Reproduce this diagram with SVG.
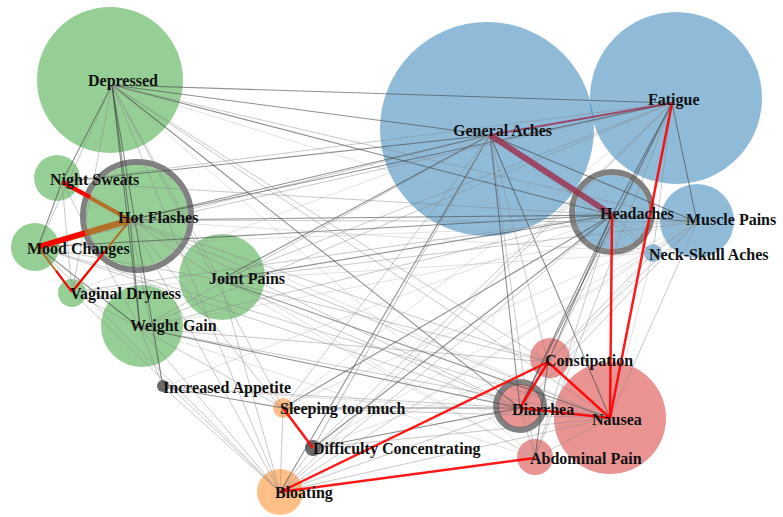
<svg xmlns="http://www.w3.org/2000/svg" width="783" height="517" viewBox="0 0 783 517">
<style>
.g{fill:#2ca02c;fill-opacity:0.5}
.b{fill:#1f77b4;fill-opacity:0.5}
.r{fill:#d62728;fill-opacity:0.5}
.o{fill:#ff7f0e;fill-opacity:0.5}
.k{fill:#666}
.ring{fill:none;stroke:#555;stroke-opacity:0.75;stroke-width:6}
.e1{stroke:#444;stroke-opacity:0.6;stroke-width:1.1}
.e2{stroke:#888;stroke-opacity:0.45;stroke-width:1}
.e3{stroke:#aaa;stroke-opacity:0.35;stroke-width:1}
.hr{stroke:#f00;stroke-width:2.5;stroke-opacity:0.9}
.hb{stroke:#b5651d;stroke-opacity:0.9}
.hm{stroke:#9b2d4a;stroke-opacity:0.8}
text{font-family:"Liberation Serif","Times New Roman",serif;font-weight:bold;font-size:16px;fill:#111}
</style>
<rect width="783" height="517" fill="#fff"/>
<g id="nodes-circles">
<g id="depressed"><circle class="g" cx="110" cy="80" r="73"/></g>
<g id="night-sweats"><circle class="g" cx="57" cy="178" r="23"/></g>
<g id="hot-flashes"><circle class="g" cx="137" cy="216" r="51"/><circle class="ring" cx="137" cy="216" r="54"/></g>
<g id="mood-changes"><circle class="g" cx="35" cy="247" r="24"/></g>
<g id="vaginal-dryness"><circle class="g" cx="72" cy="293" r="14"/></g>
<g id="weight-gain"><circle class="g" cx="142" cy="326" r="41"/></g>
<g id="joint-pains"><circle class="g" cx="222" cy="277" r="43"/></g>
<g id="increased-appetite"><circle class="k" cx="163" cy="386" r="6"/></g>
<g id="sleeping-too-much"><circle class="o" cx="283" cy="408" r="10"/></g>
<g id="difficulty-concentrating"><circle class="k" cx="313" cy="448" r="8"/></g>
<g id="bloating"><circle class="o" cx="280" cy="492" r="23"/></g>
<g id="general-aches"><circle class="b" cx="487" cy="129" r="107"/></g>
<g id="fatigue"><circle class="b" cx="676" cy="98" r="86"/></g>
<g id="headaches"><circle class="b" cx="612" cy="212" r="37"/><circle class="ring" cx="612" cy="212" r="40"/></g>
<g id="muscle-pains"><circle class="b" cx="697" cy="221" r="37"/></g>
<g id="neck-skull-aches"><circle class="b" cx="653" cy="253" r="9"/></g>
<g id="constipation"><circle class="r" cx="550" cy="358" r="20"/></g>
<g id="diarrhea"><circle class="r" cx="520" cy="406" r="22"/><circle class="ring" cx="520" cy="406" r="24"/></g>
<g id="nausea"><circle class="r" cx="610" cy="418" r="56"/></g>
<g id="abdominal-pain"><circle class="r" cx="535" cy="457" r="18"/></g>
</g>
<g id="connectors">
<g class="e1">
<line x1="112" y1="85" x2="672" y2="103"/>
<line x1="112" y1="85" x2="490" y2="135"/>
<line x1="112" y1="85" x2="612" y2="215"/>
<line x1="112" y1="85" x2="520" y2="408"/>
<line x1="112" y1="85" x2="130" y2="220"/>
<line x1="112" y1="85" x2="62" y2="182"/>
<line x1="112" y1="85" x2="140" y2="328"/>
<line x1="112" y1="85" x2="163" y2="387"/>
<line x1="130" y1="220" x2="612" y2="215"/>
<line x1="130" y1="220" x2="490" y2="135"/>
<line x1="130" y1="220" x2="672" y2="103"/>
<line x1="130" y1="220" x2="140" y2="328"/>
<line x1="62" y1="182" x2="490" y2="135"/>
<line x1="38" y1="247" x2="612" y2="215"/>
<line x1="140" y1="328" x2="520" y2="408"/>
<line x1="220" y1="280" x2="612" y2="215"/>
<line x1="220" y1="280" x2="490" y2="135"/>
<line x1="220" y1="280" x2="610" y2="418"/>
<line x1="283" y1="408" x2="612" y2="215"/>
<line x1="313" y1="448" x2="612" y2="215"/>
<line x1="280" y1="492" x2="490" y2="135"/>
<line x1="490" y1="135" x2="610" y2="418"/>
<line x1="490" y1="135" x2="520" y2="408"/>
<line x1="490" y1="135" x2="697" y2="222"/>
<line x1="672" y1="103" x2="612" y2="215"/>
<line x1="672" y1="103" x2="697" y2="222"/>
<line x1="672" y1="103" x2="520" y2="408"/>
<line x1="612" y1="215" x2="520" y2="408"/>
<line x1="612" y1="215" x2="548" y2="362"/>
<line x1="163" y1="387" x2="283" y2="408"/>
<line x1="62" y1="182" x2="38" y2="247"/>
<line x1="38" y1="247" x2="140" y2="328"/>
<line x1="313" y1="448" x2="520" y2="408"/>
<line x1="283" y1="408" x2="520" y2="408"/>
<line x1="548" y1="362" x2="535" y2="458"/>
<line x1="520" y1="408" x2="610" y2="418"/>
<line x1="612" y1="215" x2="697" y2="222"/>
</g>
<g class="e2">
<line x1="112" y1="85" x2="697" y2="222"/>
<line x1="112" y1="85" x2="610" y2="418"/>
<line x1="112" y1="85" x2="548" y2="362"/>
<line x1="112" y1="85" x2="38" y2="247"/>
<line x1="112" y1="85" x2="72" y2="292"/>
<line x1="112" y1="85" x2="220" y2="280"/>
<line x1="112" y1="85" x2="280" y2="492"/>
<line x1="112" y1="85" x2="283" y2="408"/>
<line x1="130" y1="220" x2="697" y2="222"/>
<line x1="130" y1="220" x2="520" y2="408"/>
<line x1="130" y1="220" x2="610" y2="418"/>
<line x1="130" y1="220" x2="548" y2="362"/>
<line x1="130" y1="220" x2="220" y2="280"/>
<line x1="130" y1="220" x2="163" y2="387"/>
<line x1="130" y1="220" x2="280" y2="492"/>
<line x1="130" y1="220" x2="313" y2="448"/>
<line x1="62" y1="182" x2="672" y2="103"/>
<line x1="62" y1="182" x2="72" y2="292"/>
<line x1="62" y1="182" x2="140" y2="328"/>
<line x1="62" y1="182" x2="612" y2="215"/>
<line x1="38" y1="247" x2="490" y2="135"/>
<line x1="38" y1="247" x2="672" y2="103"/>
<line x1="38" y1="247" x2="220" y2="280"/>
<line x1="38" y1="247" x2="520" y2="408"/>
<line x1="38" y1="247" x2="610" y2="418"/>
<line x1="38" y1="247" x2="280" y2="492"/>
<line x1="72" y1="292" x2="140" y2="328"/>
<line x1="72" y1="292" x2="280" y2="492"/>
<line x1="72" y1="292" x2="612" y2="215"/>
<line x1="140" y1="328" x2="490" y2="135"/>
<line x1="140" y1="328" x2="672" y2="103"/>
<line x1="140" y1="328" x2="612" y2="215"/>
<line x1="140" y1="328" x2="610" y2="418"/>
<line x1="140" y1="328" x2="283" y2="408"/>
<line x1="140" y1="328" x2="163" y2="387"/>
<line x1="140" y1="328" x2="280" y2="492"/>
<line x1="140" y1="328" x2="548" y2="362"/>
<line x1="220" y1="280" x2="672" y2="103"/>
<line x1="220" y1="280" x2="697" y2="222"/>
<line x1="220" y1="280" x2="520" y2="408"/>
<line x1="220" y1="280" x2="548" y2="362"/>
<line x1="220" y1="280" x2="280" y2="492"/>
<line x1="163" y1="387" x2="280" y2="492"/>
<line x1="163" y1="387" x2="520" y2="408"/>
<line x1="283" y1="408" x2="490" y2="135"/>
<line x1="283" y1="408" x2="610" y2="418"/>
<line x1="283" y1="408" x2="280" y2="492"/>
<line x1="313" y1="448" x2="490" y2="135"/>
<line x1="313" y1="448" x2="672" y2="103"/>
<line x1="313" y1="448" x2="280" y2="492"/>
<line x1="313" y1="448" x2="610" y2="418"/>
<line x1="280" y1="492" x2="612" y2="215"/>
<line x1="280" y1="492" x2="672" y2="103"/>
<line x1="280" y1="492" x2="520" y2="408"/>
<line x1="280" y1="492" x2="610" y2="418"/>
<line x1="490" y1="135" x2="548" y2="362"/>
<line x1="490" y1="135" x2="535" y2="458"/>
<line x1="490" y1="135" x2="653" y2="253"/>
<line x1="672" y1="103" x2="653" y2="253"/>
<line x1="672" y1="103" x2="548" y2="362"/>
<line x1="672" y1="103" x2="535" y2="458"/>
<line x1="612" y1="215" x2="653" y2="253"/>
<line x1="612" y1="215" x2="535" y2="458"/>
<line x1="697" y1="222" x2="520" y2="408"/>
<line x1="697" y1="222" x2="610" y2="418"/>
<line x1="697" y1="222" x2="653" y2="253"/>
<line x1="697" y1="222" x2="548" y2="362"/>
<line x1="520" y1="408" x2="535" y2="458"/>
<line x1="610" y1="418" x2="535" y2="458"/>
<line x1="653" y1="253" x2="548" y2="362"/>
</g>
<g class="e3">
<line x1="112" y1="85" x2="535" y2="458"/>
<line x1="112" y1="85" x2="653" y2="253"/>
<line x1="130" y1="220" x2="535" y2="458"/>
<line x1="130" y1="220" x2="653" y2="253"/>
<line x1="62" y1="182" x2="220" y2="280"/>
<line x1="62" y1="182" x2="610" y2="418"/>
<line x1="38" y1="247" x2="697" y2="222"/>
<line x1="72" y1="292" x2="220" y2="280"/>
<line x1="72" y1="292" x2="490" y2="135"/>
<line x1="140" y1="328" x2="697" y2="222"/>
<line x1="140" y1="328" x2="535" y2="458"/>
<line x1="220" y1="280" x2="535" y2="458"/>
<line x1="220" y1="280" x2="653" y2="253"/>
<line x1="163" y1="387" x2="612" y2="215"/>
<line x1="163" y1="387" x2="610" y2="418"/>
<line x1="283" y1="408" x2="672" y2="103"/>
<line x1="283" y1="408" x2="697" y2="222"/>
<line x1="313" y1="448" x2="697" y2="222"/>
<line x1="313" y1="448" x2="548" y2="362"/>
<line x1="280" y1="492" x2="697" y2="222"/>
<line x1="280" y1="492" x2="653" y2="253"/>
<line x1="490" y1="135" x2="313" y2="448"/>
<line x1="653" y1="253" x2="610" y2="418"/>
<line x1="653" y1="253" x2="520" y2="408"/>
</g>
<line class="hm" x1="490" y1="135" x2="612" y2="215" stroke-width="6"/>
<line class="hm" x1="490" y1="135" x2="672" y2="103" stroke-width="2"/>
<line class="hb" x1="62" y1="182" x2="130" y2="220" stroke-width="4"/>
<line x1="62" y1="182" x2="90" y2="197" stroke="#f00" stroke-width="4"/>
<line class="hb" x1="38" y1="247" x2="130" y2="220" stroke-width="6"/>
<line x1="38" y1="247" x2="85" y2="233" stroke="#f00" stroke-width="5"/>
<line class="hb" x1="38" y1="247" x2="72" y2="292" stroke-width="2"/>
<line x1="38" y1="247" x2="72" y2="292" stroke="#f00" stroke-width="2" stroke-dasharray="0 30 30"/>
<line class="hb" x1="72" y1="292" x2="130" y2="220" stroke-width="2"/>
<line x1="72" y1="292" x2="105" y2="251" stroke="#f00" stroke-width="2"/>
<line class="hr" x1="672" y1="103" x2="610" y2="418"/>
<line class="hr" x1="612" y1="215" x2="610" y2="418"/>
<line class="hr" x1="548" y1="362" x2="520" y2="408" stroke-width="5"/>
<line class="hr" x1="548" y1="362" x2="610" y2="418"/>
<line class="hr" x1="520" y1="408" x2="610" y2="418" stroke-width="3"/>
<line class="hr" x1="280" y1="492" x2="548" y2="362"/>
<line class="hr" x1="280" y1="492" x2="535" y2="458"/>
<line class="hr" x1="283" y1="408" x2="313" y2="448"/>
</g>
<g id="labels">
<text x="88" y="86">Depressed</text>
<text x="50" y="185">Night Sweats</text>
<text x="118" y="223">Hot Flashes</text>
<text x="27" y="254">Mood Changes</text>
<text x="70" y="299">Vaginal Dryness</text>
<text x="130" y="331">Weight Gain</text>
<text x="209" y="284">Joint Pains</text>
<text x="163" y="393">Increased Appetite</text>
<text x="280" y="414">Sleeping too much</text>
<text x="313" y="454">Difficulty Concentrating</text>
<text x="275" y="498">Bloating</text>
<text x="453" y="136">General Aches</text>
<text x="648" y="105">Fatigue</text>
<text x="600" y="219">Headaches</text>
<text x="686" y="225">Muscle Pains</text>
<text x="649" y="260">Neck-Skull Aches</text>
<text x="545" y="366">Constipation</text>
<text x="512" y="415">Diarrhea</text>
<text x="592" y="425">Nausea</text>
<text x="530" y="464">Abdominal Pain</text>
</g>
</svg>
